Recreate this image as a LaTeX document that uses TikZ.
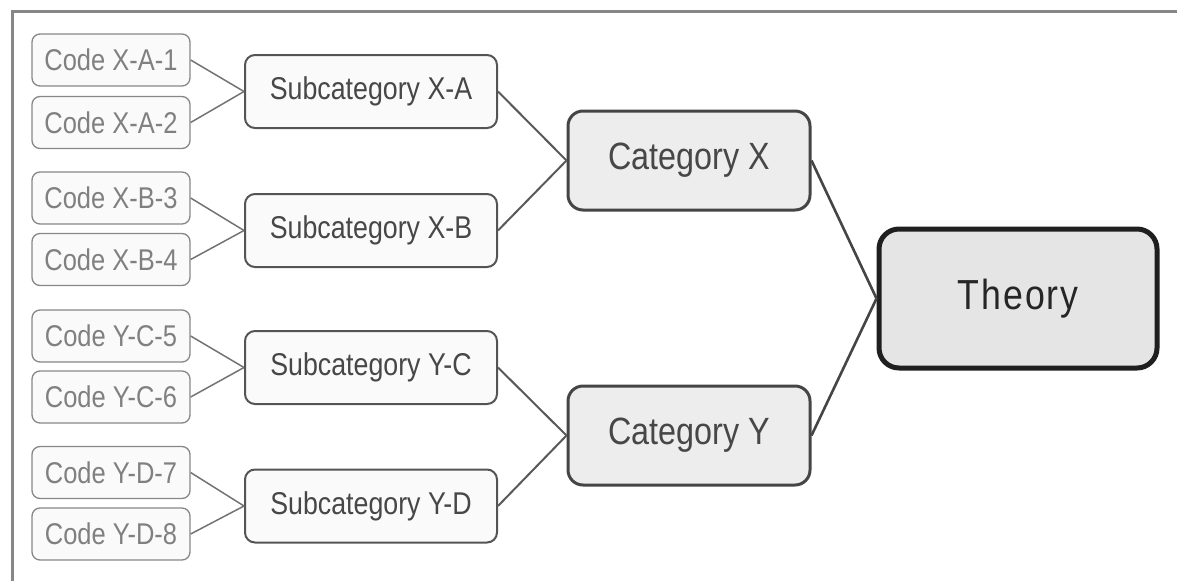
\documentclass[tikz,border=0pt]{standalone}
\usepackage{fontspec}
\setmainfont{Liberation Sans}[FakeStretch=0.85]
\begin{document}
\begin{tikzpicture}[x=1pt,y=-1pt,
  codebox/.style={draw=black!47,line width=1.3pt,fill=black!2,rounded corners=8pt,
    minimum width=158pt,minimum height=52pt,inner sep=0pt,text=black!50,
    font=\fontsize{30}{32}\selectfont},
  subbox/.style={draw=black!67,line width=2pt,fill=black!2,rounded corners=10pt,
    minimum width=252pt,minimum height=73pt,inner sep=0pt,text=black!72,
    font=\fontsize{31.5}{34}\selectfont},
  catbox/.style={draw=black!73,line width=3pt,fill=black!7,rounded corners=15pt,
    minimum width=242pt,minimum height=99pt,inner sep=0pt,text=black!72,
    font=\fontsize{38}{40}\selectfont},
  theorybox/.style={draw=black!88,line width=5pt,fill=black!10,rounded corners=20pt,
    minimum width=278pt,minimum height=139pt,inner sep=0pt,text=black!85,
    font=\fontsize{42}{46}\selectfont\addfontfeature{LetterSpace=5}},
  codelink/.style={draw=black!55,line width=1.5pt},
  sublink/.style={draw=black!65,line width=2pt},
  catlink/.style={draw=black!73,line width=2.6pt}]
\useasboundingbox (0,0) rectangle (1177,581);
% outer frame
\draw[black!47,line width=3pt] (12,581) -- (12,11) -- (1177,11);

% codes
\node[codebox] (c1) at (111,60) {Code X-A-1};
\node[codebox] (c2) at (111,122.5) {Code X-A-2};
\node[codebox] (c3) at (111,198) {Code X-B-3};
\node[codebox] (c4) at (111,259.5) {Code X-B-4};
\node[codebox] (c5) at (111,336) {Code Y-C-5};
\node[codebox] (c6) at (111,397) {Code Y-C-6};
\node[codebox] (c7) at (111,472.5) {Code Y-D-7};
\node[codebox] (c8) at (111,534) {Code Y-D-8};

% subcategories
\node[subbox] (sa) at (371,91.5) {Subcategory X-A};
\node[subbox] (sb) at (371,230.5) {Subcategory X-B};
\node[subbox] (sc) at (371,367.5) {Subcategory Y-C};
\node[subbox] (sd) at (371,506) {Subcategory Y-D};

% categories
\node[catbox] (cx) at (689,160.5) {Category X};
\node[catbox] (cy) at (689,435.5) {Category Y};

% theory
\node[theorybox] (th) at (1018,298.5) {Theory};

% connectors
\foreach \a/\b in {c1/sa,c2/sa,c3/sb,c4/sb,c5/sc,c6/sc,c7/sd,c8/sd}
  \draw[codelink] (\a.east) -- (\b.west);
\foreach \a/\b in {sa/cx,sb/cx,sc/cy,sd/cy}
  \draw[sublink] (\a.east) -- (\b.west);
\foreach \a in {cx,cy}
  \draw[catlink] (\a.east) -- (th.west);
\end{tikzpicture}
\end{document}
